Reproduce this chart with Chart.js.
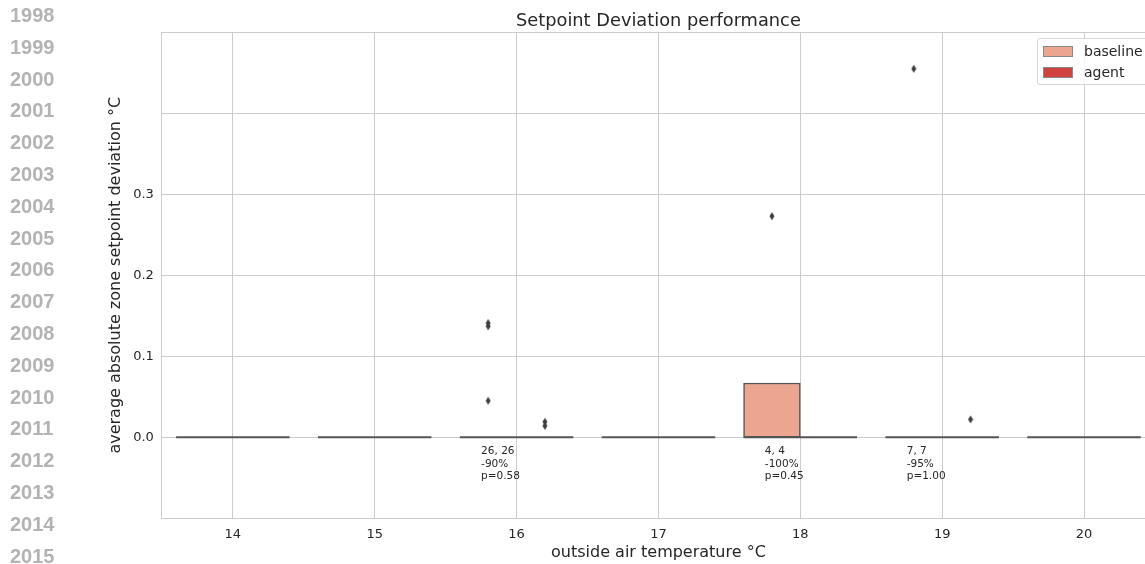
<!DOCTYPE html>
<html>
<head>
<meta charset="utf-8">
<script src="https://cdn.jsdelivr.net/npm/chart.js@4.4.1/dist/chart.umd.min.js"></script>
<style>
  html, body { margin: 0; padding: 0; background: #fff; overflow: hidden; }
  #wrap { position: absolute; left: 0; top: 0; width: 1160px; height: 564px; }
  #years { position: absolute; left: 10px; top: 0px; font-family: "Liberation Sans", Arial, sans-serif;
           font-weight: bold; font-size: 20px; line-height: 31.8px; color: #b3b3b3; }
  #legend { position: absolute; left: 1037px; top: 38px; width: 130px; height: 47px; box-sizing: border-box;
            border: 1px solid #d6d6d6; border-radius: 3px; background: rgba(255,255,255,0.8);
            font-family: "DejaVu Sans", sans-serif; font-size: 14px; color: #262626; }
  #legend .row { position: absolute; left: 5px; height: 20px; display: flex; align-items: center; }
  #legend .sw { width: 28px; height: 9px; border: 1px solid #8a8a8a; margin-right: 11px; }
</style>
</head>
<body>
<div id="wrap">
  <canvas id="chart" width="1160" height="564"></canvas>
</div>
<div id="years"></div>
<div id="legend"></div>
<script>
// categories (outside air temperature)
const temps = [14, 15, 16, 17, 18, 19, 20];

// box quartiles per category
const baselineQ1 = [0, 0, 0, 0, 0, 0, 0];
const baselineQ3 = [0, 0, 0, 0, 0.067, 0, 0];
const baselineMed = [0, 0, 0, 0, 0, 0, 0];
const agentQ1 = [0, 0, 0, 0, 0, 0, 0];
const agentQ3 = [0, 0, 0, 0, 0, 0, 0];
const agentMed = [0, 0, 0, 0, 0, 0, 0];

// outliers: [temperature, value]
const baselineOutliers = [[16, 0.141], [16, 0.137], [16, 0.045], [18, 0.273], [19, 0.455]];
const agentOutliers = [[16, 0.019], [16, 0.014], [19, 0.022]];

// per-category annotations
const noteTemps = [16, 18, 19];
const noteText = [
  ["26, 26", "-90%", "p=0.58"],
  ["4, 4", "-100%", "p=0.45"],
  ["7, 7", "-95%", "p=1.00"],
];

const yLabels = [0, 0.1, 0.2, 0.3];
const years = [1998, 1999, 2000, 2001, 2002, 2003, 2004, 2005, 2006, 2007, 2008, 2009, 2010, 2011, 2012, 2013, 2014, 2015];

const seriesNames = ["baseline", "agent"];
const seriesColors = ["#eca690", "#d0433e"];
const edgeColor = "#555555";

document.getElementById("years").innerHTML = years.map(y => "<div>" + y + "</div>").join("");

const legend = document.getElementById("legend");
seriesNames.forEach(function (name, i) {
  const row = document.createElement("div");
  row.className = "row";
  row.style.top = (2 + i * 21) + "px";
  row.innerHTML = '<span class="sw" style="background:' + seriesColors[i] + '"></span><span>' + name + "</span>";
  legend.appendChild(row);
});

// thin diamond marker
const diamond = document.createElement("canvas");
diamond.width = 6;
diamond.height = 9;
(function () {
  const c = diamond.getContext("2d");
  c.fillStyle = "#3d3d3d";
  c.beginPath();
  c.moveTo(3, 0.5);
  c.lineTo(5.5, 4.5);
  c.lineTo(3, 8.5);
  c.lineTo(0.5, 4.5);
  c.closePath();
  c.fill();
})();

// hue offsets inside each category group (seaborn dodge, width 0.8)
const hueShift = [-0.2, 0.2];

// median segments for one hue
function medianSegments(med, side) {
  const pts = [];
  temps.forEach(function (t, i) {
    const c = t + hueShift[side];
    pts.push({ x: c - 0.2, y: med[i] }, { x: c + 0.2, y: med[i] }, { x: c + 0.2, y: null });
  });
  return pts;
}

const notesPlugin = {
  id: "notes",
  afterDatasetsDraw(chart) {
    const ctx = chart.ctx;
    const xs = chart.scales.xp;
    const ys = chart.scales.y;
    ctx.save();
    ctx.font = "10.5px 'DejaVu Sans'";
    ctx.fillStyle = "#262626";
    ctx.textAlign = "left";
    ctx.textBaseline = "top";
    noteTemps.forEach(function (t, i) {
      const x = xs.getPixelForValue(t - 0.25);
      const y = ys.getPixelForValue(-0.011);
      noteText[i].forEach(function (line, j) {
        ctx.fillText(line, x, y + j * 12.5);
      });
    });
    ctx.restore();
  },
};

Chart.defaults.font.family = "'DejaVu Sans', sans-serif";
Chart.defaults.color = "#262626";

function boxDataset(i, q1, q3) {
  return {
    label: seriesNames[i],
    xAxisID: "xp",
    data: temps.map((t, k) => ({ x: t + hueShift[i], y: [q1[k], q3[k]] })),
    backgroundColor: seriesColors[i],
    borderColor: edgeColor,
    borderWidth: 1.5,
    borderSkipped: false,
    grouped: false,
    barPercentage: 1,
    categoryPercentage: 1,
    order: 3,
  };
}

new Chart(document.getElementById("chart"), {
  type: "bar",
  data: {
    labels: temps.map(String),
    datasets: [
      boxDataset(0, baselineQ1, baselineQ3),
      boxDataset(1, agentQ1, agentQ3),
      {
        type: "scatter",
        label: "medians",
        xAxisID: "xp",
        data: medianSegments(baselineMed, 0).concat(medianSegments(agentMed, 1)),
        showLine: true,
        spanGaps: false,
        borderColor: edgeColor,
        borderWidth: 2,
        pointRadius: 0,
        order: 2,
      },
      {
        type: "scatter",
        label: "baseline outliers",
        xAxisID: "xp",
        data: baselineOutliers.map(p => ({ x: p[0] + hueShift[0], y: p[1] })),
        pointStyle: diamond,
        pointRadius: 3,
        order: 1,
      },
      {
        type: "scatter",
        label: "agent outliers",
        xAxisID: "xp",
        data: agentOutliers.map(p => ({ x: p[0] + hueShift[1], y: p[1] })),
        pointStyle: diamond,
        pointRadius: 3,
        order: 1,
      },
    ],
  },
  options: {
    responsive: false,
    animation: false,
    layout: { padding: { left: 106, right: 0, top: 0, bottom: 0 } },
    plugins: {
      legend: { display: false },
      tooltip: { enabled: false },
      title: {
        display: true,
        fullSize: false,
        text: "Setpoint Deviation performance",
        color: "#262626",
        font: { size: 17.8, weight: "normal" },
        padding: { top: 11, bottom: 0 },
      },
    },
    scales: {
      x: {
        type: "category",
        offset: true,
        grid: { offset: false, color: "#cccccc", drawTicks: false, tickLength: 0 },
        border: { color: "#cccccc" },
        ticks: { font: { size: 13 }, padding: 9, color: "#262626" },
        title: {
          display: true,
          text: "outside air temperature °C",
          font: { size: 16 },
          color: "#262626",
          padding: { top: -9, bottom: 2 },
        },
      },
      xp: {
        type: "linear",
        display: false,
        offset: false,
        min: temps[0] - 0.5,
        max: temps[temps.length - 1] + 0.5,
      },
      y: {
        min: -0.1,
        max: 0.5,
        grid: { color: "#cccccc", drawTicks: false, tickLength: 0 },
        border: { color: "#cccccc" },
        ticks: {
          stepSize: 0.1,
          padding: 8,
          font: { size: 13 },
          color: "#262626",
          callback: function (v) {
            const hit = yLabels.find(l => Math.abs(l - v) < 1e-6);
            return hit === undefined ? "" : hit.toFixed(1);
          },
        },
        title: {
          display: true,
          text: "average absolute zone setpoint deviation °C",
          font: { size: 16 },
          color: "#262626",
          padding: { top: 0, bottom: 0 },
        },
      },
    },
  },
  plugins: [notesPlugin],
});
</script>
</body>
</html>
